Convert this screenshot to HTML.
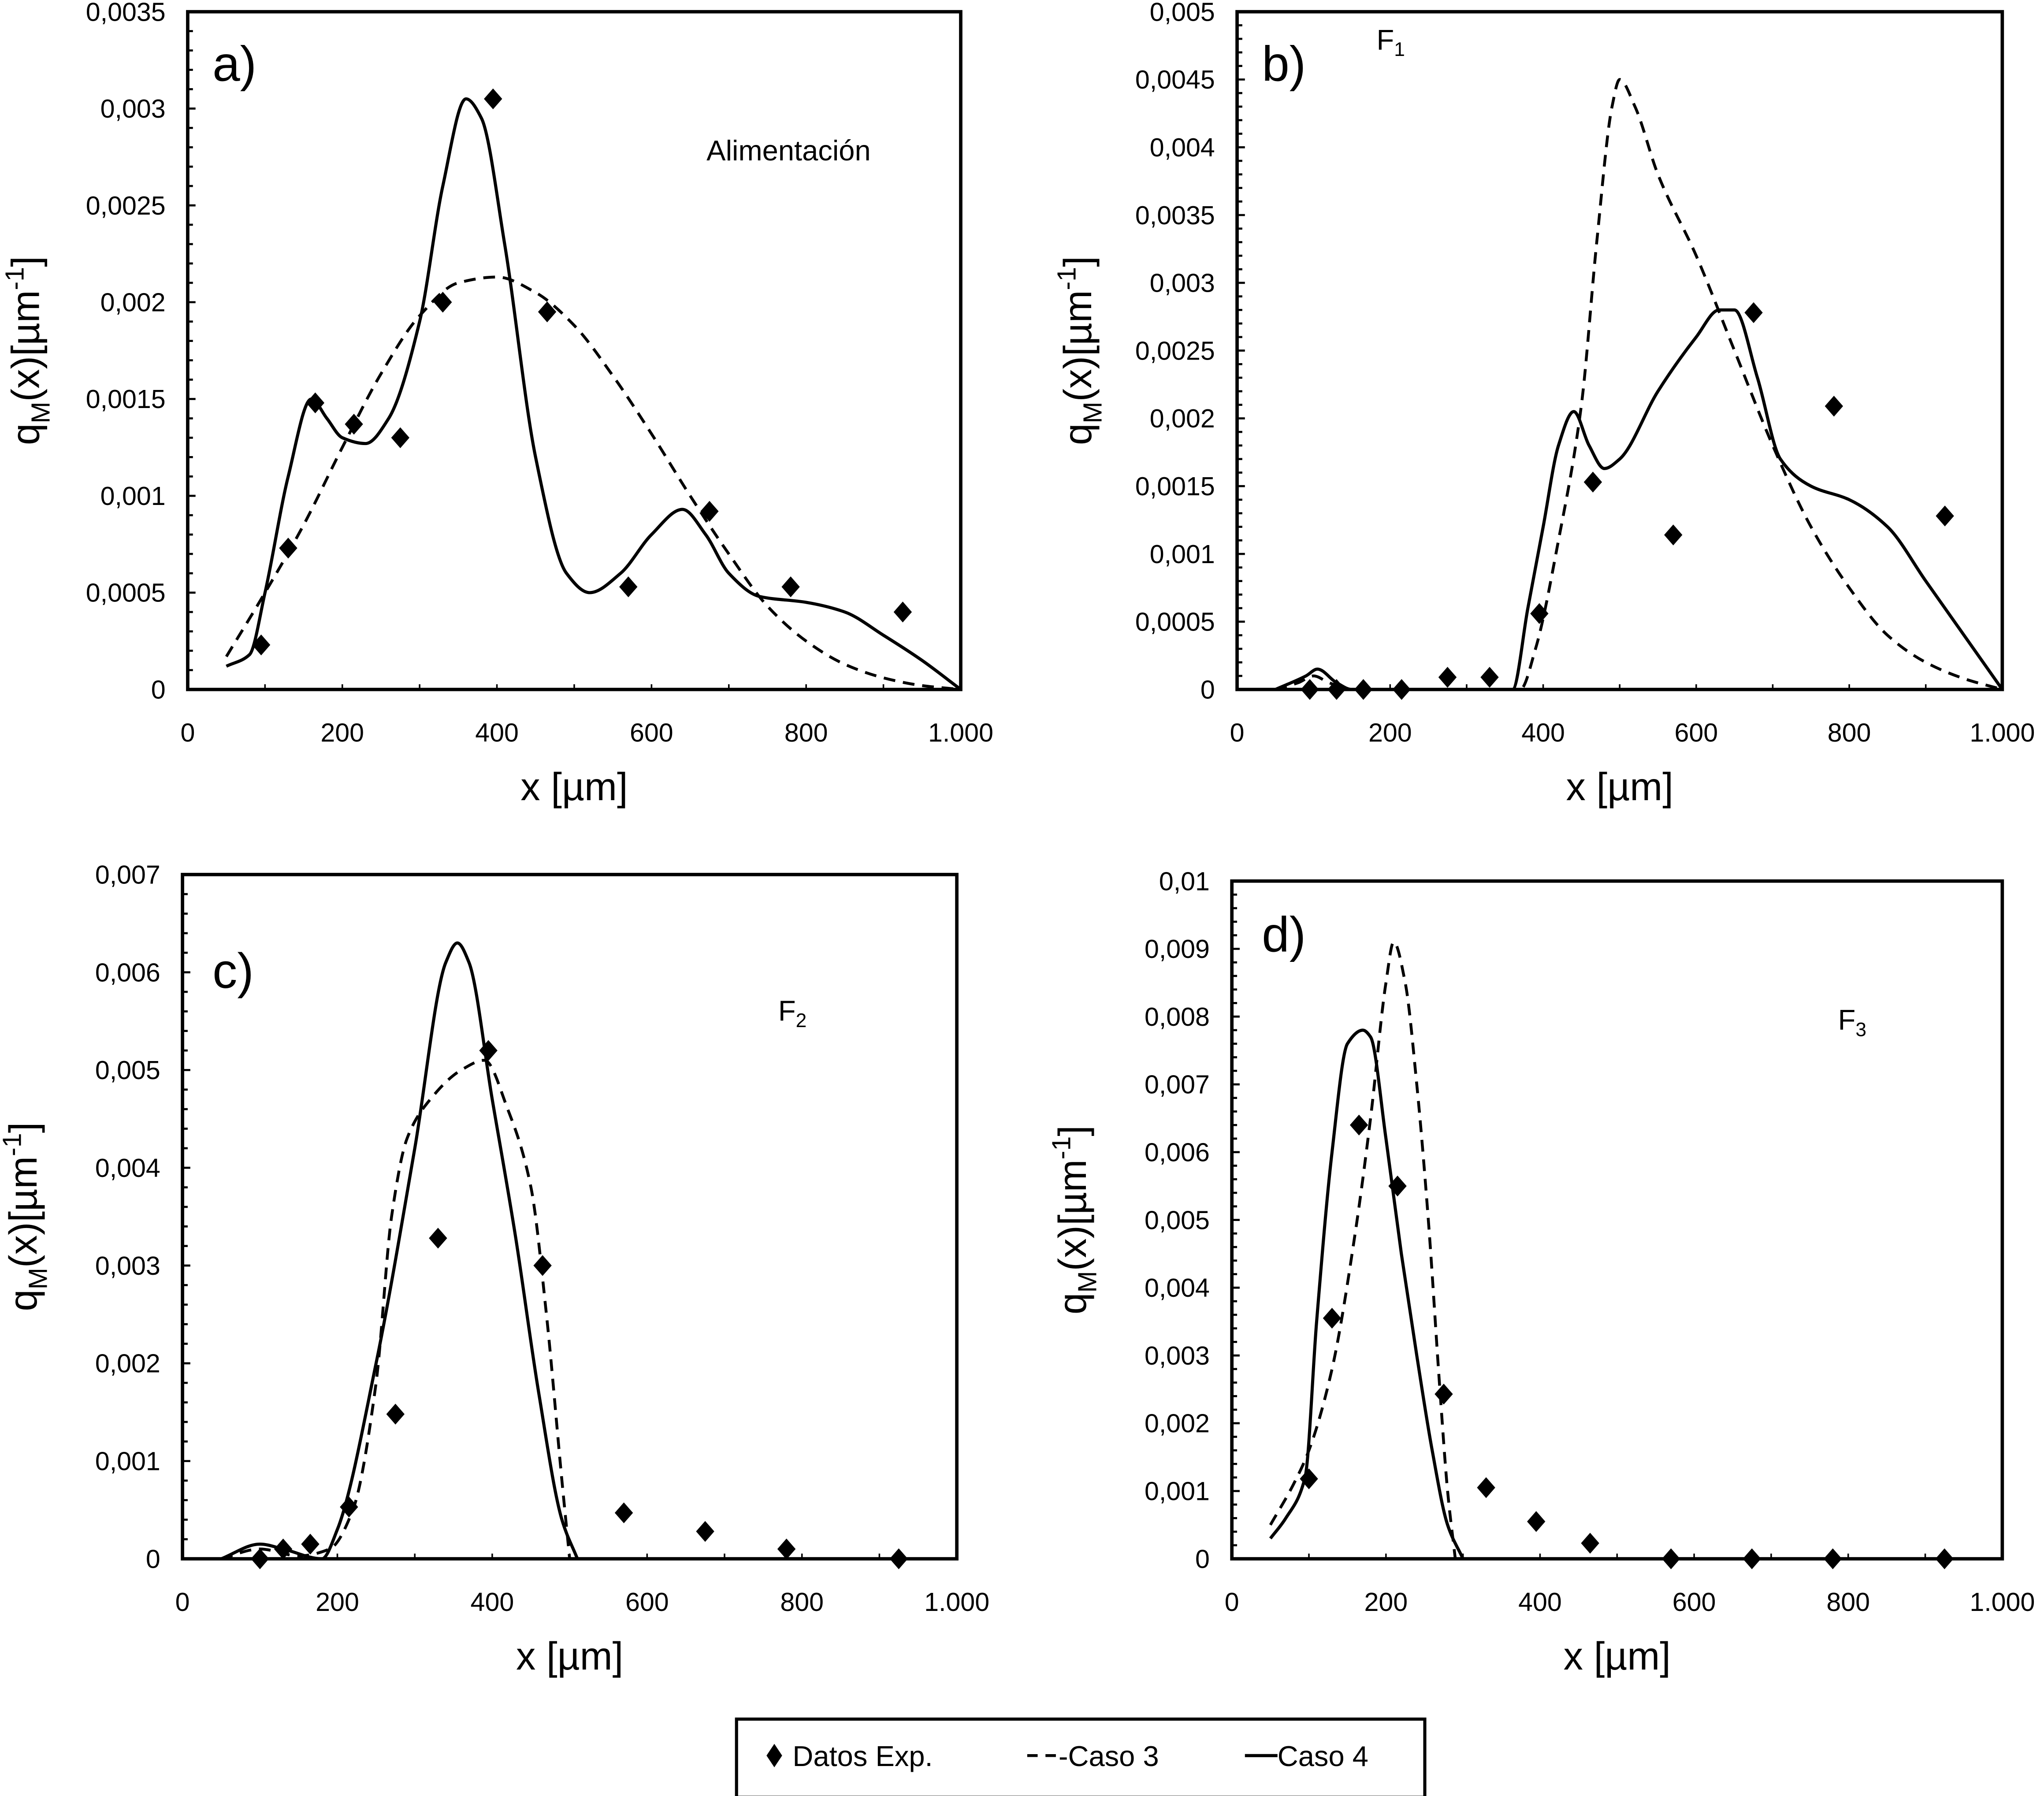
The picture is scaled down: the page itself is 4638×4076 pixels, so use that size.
<!DOCTYPE html>
<html><head><meta charset="utf-8"><style>
html,body{margin:0;padding:0;background:#fff}
svg{display:block}
text{font-family:"Liberation Sans",sans-serif;fill:#000}
</style></head><body>
<svg id="fig" width="4638" height="4076" viewBox="0 0 1568 1378" xmlns="http://www.w3.org/2000/svg"></svg>
<script>
const NS="http://www.w3.org/2000/svg";
const svg=document.getElementById('fig');
const xTicks=[0,200,400,600,800,1000];
const xTickLabels=["0","200","400","600","800","1.000"];

const aPtsX=[95,130,165,215,275,330,395,465,570,675,780,925];
const aPtsY=[0.00023,0.00073,0.00148,0.00137,0.0013,0.002,0.00305,0.00195,0.00053,0.00092,0.00053,0.0004];
const aC3X=[50,100,150,200,250,300,350,400,450,500,550,600,650,700,750,800,850,900,950,1000];
const aC3Y=[0.00017,0.0005,0.00085,0.00125,0.00163,0.00193,0.0021,0.00213,0.00205,0.00188,0.00162,0.00132,0.001,0.0007,0.00043,0.00025,0.00013,0.00006,0.00002,0];
const aC4X=[50,80,100,130,160,180,200,230,260,300,330,360,380,410,450,490,520,560,600,640,670,700,740,800,850,900,950,1000];
const aC4Y=[0.00012,0.00018,0.0005,0.0011,0.0015,0.0014,0.0013,0.00127,0.0014,0.0019,0.0026,0.00305,0.00295,0.0023,0.0012,0.0006,0.0005,0.0006,0.0008,0.00093,0.0008,0.0006,0.00048,0.00045,0.0004,0.00028,0.00015,0];

const bPtsX=[95,130,165,215,275,330,395,465,570,675,780,925];
const bPtsY=[0,0,0,0,0.00009,0.00009,0.00056,0.00153,0.00114,0.00278,0.00209,0.00128];
const bC3X=[50,80,100,120,150,370,390,420,450,470,490,500,520,550,600,650,700,750,800,850,900,950,1000];
const bC3Y=[0,0.00005,0.0001,0.00005,0,0,0.0003,0.0011,0.0021,0.0033,0.0043,0.0045,0.0043,0.0038,0.0032,0.0025,0.0018,0.0012,0.00075,0.0004,0.0002,0.00008,0];
const bC4X=[50,90,105,130,150,360,380,400,420,440,460,480,500,550,600,630,650,680,710,750,800,850,900,950,1000];
const bC4Y=[0,0.0001,0.00015,0.00005,0,0,0.0006,0.0012,0.0018,0.00205,0.0018,0.00163,0.0017,0.0022,0.0026,0.0028,0.0028,0.0023,0.0017,0.0015,0.0014,0.0012,0.0008,0.0004,0];

const cPtsX=[100,130,165,215,275,330,395,465,570,675,780,925];
const cPtsY=[0,0.0001,0.00015,0.00053,0.00148,0.00328,0.0052,0.003,0.00047,0.00028,0.0001,0];
const cC3X=[50,100,150,190,220,250,270,290,320,360,390,420,450,470,490,500];
const cC3Y=[0,0.0001,0.00003,0.0001,0.0005,0.0018,0.0035,0.0043,0.0047,0.005,0.0051,0.0046,0.0038,0.0025,0.0008,0];
const cC4X=[50,100,130,180,200,250,300,340,355,370,400,430,460,490,510];
const cC4Y=[0,0.00015,0.0001,0,0.0003,0.002,0.0042,0.0061,0.0063,0.0061,0.0047,0.0033,0.0017,0.0004,0];

const dPtsX=[100,130,165,215,275,330,395,465,570,675,780,925];
const dPtsY=[0.00118,0.00355,0.0064,0.0055,0.00243,0.00105,0.00055,0.00023,0,0,0,0];
const dC3X=[50,80,100,130,160,180,200,210,225,240,255,270,280,290];
const dC3Y=[0.0005,0.0011,0.0016,0.0028,0.0048,0.0065,0.0085,0.0091,0.0085,0.007,0.005,0.0025,0.001,0];
const dC4X=[50,70,95,110,130,150,170,180,200,220,240,260,280,300];
const dC4Y=[0.0003,0.0006,0.0012,0.0035,0.006,0.0076,0.0078,0.0077,0.0062,0.0045,0.003,0.0016,0.0005,0];

const aYTicks=[0,0.0005,0.001,0.0015,0.002,0.0025,0.003,0.0035];
const aYLabels=["0","0,0005","0,001","0,0015","0,002","0,0025","0,003","0,0035"];
const bYTicks=[0,0.0005,0.001,0.0015,0.002,0.0025,0.003,0.0035,0.004,0.0045,0.005];
const bYLabels=["0","0,0005","0,001","0,0015","0,002","0,0025","0,003","0,0035","0,004","0,0045","0,005"];
const cYTicks=[0,0.001,0.002,0.003,0.004,0.005,0.006,0.007];
const cYLabels=["0","0,001","0,002","0,003","0,004","0,005","0,006","0,007"];
const dYTicks=[0,0.001,0.002,0.003,0.004,0.005,0.006,0.007,0.008,0.009,0.01];
const dYLabels=["0","0,001","0,002","0,003","0,004","0,005","0,006","0,007","0,008","0,009","0,01"];

function el(tag,attrs,parent){const e=document.createElementNS(NS,tag);for(const k in attrs)e.setAttribute(k,attrs[k]);(parent||svg).appendChild(e);return e;}
// monotone cubic (Fritsch-Carlson) path, no overshoot
function smooth(p){
  const n=p.length,dx=[],s=[],m=[];
  for(let i=0;i<n-1;i++){dx[i]=p[i+1][0]-p[i][0];s[i]=(p[i+1][1]-p[i][1])/dx[i];}
  m[0]=s[0];m[n-1]=s[n-2];
  for(let i=1;i<n-1;i++){ if(s[i-1]*s[i]<=0) m[i]=0; else {const w1=2*dx[i]+dx[i-1],w2=dx[i]+2*dx[i-1];m[i]=(w1+w2)/(w1/s[i-1]+w2/s[i]);} }
  let d=`M${p[0][0]},${p[0][1]}`;
  for(let i=0;i<n-1;i++){const h=dx[i]/3;d+=` C${p[i][0]+h},${p[i][1]+m[i]*h} ${p[i+1][0]-h},${p[i+1][1]-m[i+1]*h} ${p[i+1][0]},${p[i+1][1]}`;}
  return d;
}

function panel(cfg){
  const g=el('g',{});
  
  
  const {L,R,T,B,ymax}=cfg;
  const sx=v=>L+(v/1000)*(R-L), sy=v=>B-(v/ymax)*(B-T);
  const minor=cfg.minor;
  for(let v=0;v<=ymax+1e-9;v+=minor){const y=sy(v);const major=cfg.yTicks.some(t=>Math.abs(t-v)<1e-9);el('line',{x1:L,x2:L+(major?6:4),y1:y,y2:y,stroke:'#000','stroke-width':1.6},g);}
  for(let v=100;v<1000;v+=100){el('line',{x1:sx(v),x2:sx(v),y1:B,y2:B-4,stroke:'#000','stroke-width':1.2},g);}
  cfg.yTicks.forEach((v,i)=>{const t=el('text',{x:L-17,y:sy(v)+7,'text-anchor':'end','font-size':20},g);t.textContent=cfg.yLabels[i];
    
    });
  xTicks.forEach((v,i)=>{const t=el('text',{x:sx(v),y:B+40,'text-anchor':'middle','font-size':20},g);t.textContent=xTickLabels[i];
    
    });
  const xt=el('text',{x:(L+R)/2,y:B+85,'text-anchor':'middle','font-size':30},g);xt.textContent='x [µm]';
  
  
  const yt=el('text',{transform:`translate(${cfg.ytx},${(T+B)/2}) rotate(-90)`,'text-anchor':'middle','font-size':30},g);
  
  
  yt.innerHTML='q<tspan font-size="20" dy="8">M</tspan><tspan dy="-8">(x)[µm</tspan><tspan font-size="20" dy="-12">-1</tspan><tspan dy="12">]</tspan>';
  const c3=el('path',{d:smooth(cfg.c3x.map((x,i)=>[sx(x),sy(cfg.c3y[i])])),fill:'none',stroke:'#000','stroke-width':2.2,'stroke-dasharray':'9,6'},g);
  
  
  const c4=el('path',{d:smooth(cfg.c4x.map((x,i)=>[sx(x),sy(cfg.c4y[i])])),fill:'none',stroke:'#000','stroke-width':2.4},g);
  
  
  cfg.px.forEach((x,i)=>{const cx=sx(x),cy=sy(cfg.py[i]);const p=el('path',{d:`M${cx},${cy-8} L${cx+7},${cy} L${cx},${cy+8} L${cx-7},${cy}Z`,fill:'#000'},g);
    
    });
  const fr=el('rect',{x:L,y:T,width:R-L,height:B-T,fill:'none',stroke:'#000','stroke-width':2.6},g);
  
  
  const lab=el('text',{x:cfg.lab[0],y:cfg.lab[1],'font-size':38},g);lab.textContent=cfg.letter;
  
  
  const ann=el('text',{x:cfg.ann[0],y:cfg.ann[1],'font-size':22},g);
  
  
  if(cfg.annSub) ann.innerHTML='F<tspan font-size="15" dy="5">'+cfg.annSub+'</tspan>'; else ann.textContent=cfg.annText;
}
panel({name:'panel-a',L:144,R:737,T:9,B:529,ymax:0.0035,minor:0.0001,yTicks:aYTicks,yLabels:aYLabels,ytx:30,px:aPtsX,py:aPtsY,c3x:aC3X,c3y:aC3Y,c4x:aC4X,c4y:aC4Y,lab:[163,62],letter:'a)',ann:[542,123],annText:'Alimentación'});
panel({name:'panel-b',L:949,R:1536,T:9,B:529,ymax:0.005,minor:0.0001,yTicks:bYTicks,yLabels:bYLabels,ytx:837,px:bPtsX,py:bPtsY,c3x:bC3X,c3y:bC3Y,c4x:bC4X,c4y:bC4Y,lab:[968,62],letter:'b)',ann:[1056,38],annSub:'1'});
panel({name:'panel-c',L:140,R:734,T:671,B:1196,ymax:0.007,minor:0.0002,yTicks:cYTicks,yLabels:cYLabels,ytx:28,px:cPtsX,py:cPtsY,c3x:cC3X,c3y:cC3Y,c4x:cC4X,c4y:cC4Y,lab:[163,758],letter:'c)',ann:[597,783],annSub:'2'});
panel({name:'panel-d',L:945,R:1536,T:676,B:1196,ymax:0.01,minor:0.0002,yTicks:dYTicks,yLabels:dYLabels,ytx:833,px:dPtsX,py:dPtsY,c3x:dC3X,c3y:dC3Y,c4x:dC4X,c4y:dC4Y,lab:[968,730],letter:'d)',ann:[1410,790],annSub:'3'});

const lg=el('g',{});


el('rect',{x:565,y:1319,width:528,height:60,fill:'#fff',stroke:'#000','stroke-width':2.4},lg);
el('path',{d:'M594,1338 L600,1347 L594,1356 L588,1347Z',fill:'#000'},lg);
let t=el('text',{x:608,y:1355,'font-size':22},lg);t.textContent='Datos Exp.';
el('line',{x1:788,x2:812,y1:1347,y2:1347,stroke:'#000','stroke-width':2.2,'stroke-dasharray':'8,6'},lg);
t=el('text',{x:812,y:1355,'font-size':22},lg);t.textContent='-Caso 3';
el('line',{x1:955,x2:980,y1:1347,y2:1347,stroke:'#000','stroke-width':2.4},lg);
t=el('text',{x:980,y:1355,'font-size':22},lg);t.textContent='Caso 4';
</script>
</body></html>
